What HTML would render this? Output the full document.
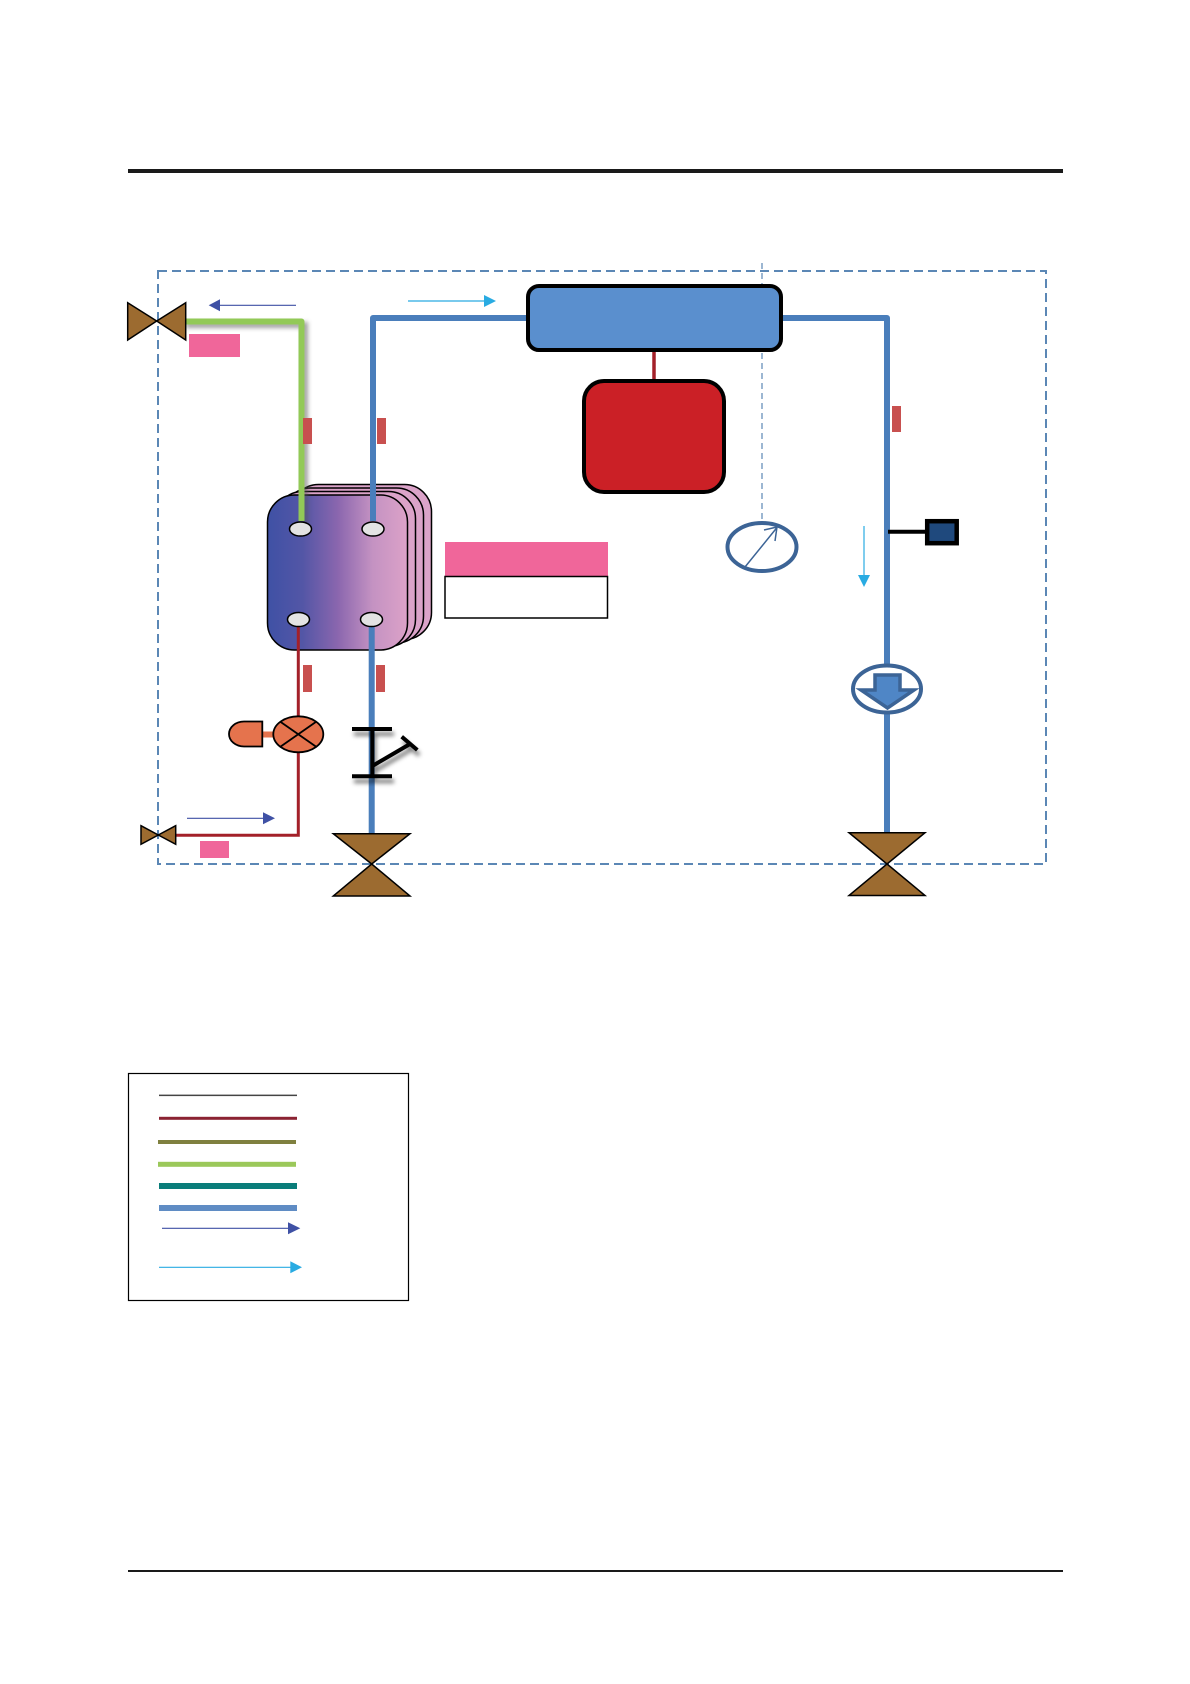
<!DOCTYPE html>
<html><head><meta charset="utf-8"><style>html,body{margin:0;padding:0;background:#fff}svg{display:block}</style></head><body>
<svg width="1190" height="1684" viewBox="0 0 1190 1684" xmlns="http://www.w3.org/2000/svg">
<defs>
<linearGradient id="g" x1="0" x2="1" y1="0" y2="0">
<stop offset="0" stop-color="#3f51a5"/><stop offset=".25" stop-color="#5356a6"/><stop offset=".5" stop-color="#8a66ae"/><stop offset=".75" stop-color="#c492c2"/><stop offset="1" stop-color="#dca2c8"/>
</linearGradient>
<filter id="s" x="-20%" y="-20%" width="140%" height="140%"><feGaussianBlur stdDeviation="2"/></filter>
</defs>
<rect x="128" y="169" width="935" height="4" fill="#1a1a1a"/>
<rect x="128" y="1570" width="935" height="2" fill="#1a1a1a"/>

<!-- stack -->
<rect x="291.500" y="484.500" width="140" height="155" rx="27" fill="#dba3c9" stroke="#000" stroke-width="1.500"/>
<rect x="283.500" y="488" width="140" height="155" rx="27" fill="#dba3c9" stroke="#000" stroke-width="1.500"/>
<rect x="275.500" y="491.500" width="140" height="155" rx="27" fill="#dba3c9" stroke="#000" stroke-width="1.500"/>
<rect x="267.500" y="495" width="140" height="155" rx="27" fill="url(#g)" stroke="#000" stroke-width="1.500"/>

<!-- green pipe -->
<path d="M186 325H305V525" fill="none" stroke="#555" stroke-opacity=".55" stroke-width="6" filter="url(#s)"/>
<path d="M186 321.500H301.500V521" fill="none" stroke="#92c957" stroke-width="6" stroke-linejoin="round"/>
<!-- blue pipes -->
<path d="M528 318H373V521" fill="none" stroke="#4a7ebb" stroke-width="6" stroke-linejoin="round"/>
<path d="M781 318H887V665" fill="none" stroke="#4a7ebb" stroke-width="6" stroke-linejoin="round"/>
<path d="M887 713V834" fill="none" stroke="#4a7ebb" stroke-width="6"/>
<path d="M371.700 619V834" fill="none" stroke="#4a7ebb" stroke-width="6"/>
<!-- red pipe -->
<path d="M298.300 619V835.300H176" fill="none" stroke="#a32029" stroke-width="3"/>
<path d="M654 350V380" fill="none" stroke="#a32029" stroke-width="3.500"/>

<!-- ticks -->
<g fill="#c8504f">
<rect x="303" y="418" width="9" height="26"/><rect x="377" y="418" width="9" height="26"/>
<rect x="303" y="665" width="9" height="27"/><rect x="376" y="665" width="9" height="27"/>
<rect x="892" y="406" width="9" height="26"/>
</g>

<!-- ports -->
<g fill="#e3e3e3" stroke="#000" stroke-width="1.500">
<ellipse cx="300.500" cy="529" rx="11" ry="7"/><ellipse cx="373" cy="529" rx="11" ry="7"/>
<ellipse cx="298.500" cy="619.500" rx="11" ry="7"/><ellipse cx="371.500" cy="619.500" rx="11" ry="7"/>
</g>

<!-- dashed enclosure -->
<rect x="158" y="271" width="888" height="593" fill="none" stroke="#5b87b5" stroke-width="2" stroke-dasharray="9 5"/>
<path d="M762 263V522" fill="none" stroke="#5b87b5" stroke-width="1.200" stroke-dasharray="6 4"/>

<!-- receiver & tank -->
<rect x="528" y="286" width="253" height="64" rx="11" fill="#5a8fce" stroke="#000" stroke-width="4"/>
<rect x="584" y="381" width="140" height="111" rx="20" fill="#cb2026" stroke="#000" stroke-width="4"/>

<!-- pink -->
<g fill="#f0669a">
<rect x="189" y="334" width="51" height="23"/>
<rect x="200" y="841" width="29" height="17"/>
<rect x="445" y="542" width="163" height="34"/>
</g>
<rect x="445" y="576.500" width="162.500" height="41.500" fill="#fff" stroke="#000" stroke-width="1.500"/>

<!-- valves -->
<g fill="#9c6b30" stroke="#000" stroke-width="1.500" stroke-linejoin="miter">
<path d="M127.700 302.700L156.700 321L127.700 340Z"/><path d="M185.700 302.700L156.700 321L185.700 340Z"/>
<path d="M141 825.700L158.300 835L141 844.300Z"/>
<path d="M175.700 825.700L158.300 835L175.700 844.300Z"/>
<path d="M333.300 833.700H410L371.700 864Z"/><path d="M333.300 896H410L371.700 864Z"/>
<path d="M849 832.700H925L887 864Z"/><path d="M849 895.500H925L887 864Z"/>
</g>

<!-- expansion valve -->
<rect x="262" y="731.500" width="12" height="6" fill="#e5734d"/>
<path d="M262.300 721.500H244a15 12.500 0 0 0 0 25H262.300Z" fill="#e5734d" stroke="#000" stroke-width="1.800"/>
<ellipse cx="298.300" cy="734.300" rx="25" ry="18" fill="#e5734d" stroke="#000" stroke-width="1.800"/>
<path d="M280 721.500L316.500 747M316.500 721.500L280 747" stroke="#000" stroke-width="1.800"/>

<!-- check valve -->
<g fill="none" stroke="#000" stroke-opacity=".5" stroke-width="4" filter="url(#s)" transform="translate(2 5)">
<path d="M352 729H392M352 776.300H392M372.300 729V776.300M372.300 766L410 744M401.700 736.700L417.300 750"/>
</g>
<g fill="none" stroke="#000" stroke-width="4">
<path d="M352 729H392M352 776.300H392M372.300 729V776.300M372.300 766L410 744M401.700 736.700L417.300 750"/>
</g>

<!-- gauge -->
<ellipse cx="762" cy="547" rx="34.500" ry="24" fill="#fff" stroke="#3c6496" stroke-width="4"/>
<path d="M745 567L777 527.500M764 530L777 527L775 541" fill="none" stroke="#3c6496" stroke-width="1.500"/>

<!-- sensor -->
<path d="M888 531.700H927" stroke="#000" stroke-width="4"/>
<rect x="927.200" y="521.200" width="29.500" height="22" fill="#1f497d" stroke="#000" stroke-width="4.500"/>

<!-- pump -->
<ellipse cx="887" cy="689" rx="34" ry="23.500" fill="#fff" stroke="#3c6496" stroke-width="4"/>
<path d="M875 675H900V690H914L887.500 708L861 690H875Z" fill="#4f86c6" stroke="#3c6496" stroke-width="3.500"/>

<!-- flow arrows -->
<g stroke="#3f51a5" fill="#3f51a5" stroke-width="1.200">
<path d="M296 305.300H218" fill="none"/><path d="M208.700 305.300L220 299.300V311.300Z" stroke="none"/>
<path d="M187 818.300H265" fill="none"/><path d="M275 818.300L263 812.300V824.300Z" stroke="none"/>
<path d="M162 1228.300H290" fill="none"/><path d="M300.300 1228.300L288 1222.300V1234.300Z" stroke="none"/>
</g>
<g stroke="#29abe2" fill="#29abe2" stroke-width="1.200">
<path d="M408 301H486" fill="none"/><path d="M496 301L484 295V307Z" stroke="none"/>
<path d="M864 526V576" fill="none"/><path d="M864 587L858 575H870Z" stroke="none"/>
<path d="M159 1267.300H292" fill="none"/><path d="M302 1267.300L290.300 1261.300V1273.300Z" stroke="none"/>
</g>

<!-- legend -->
<rect x="128.500" y="1073.500" width="280" height="227" fill="none" stroke="#000" stroke-width="1.200"/>
<rect x="159" y="1094.600" width="138" height="1.500" fill="#444"/>
<rect x="159" y="1116.800" width="138" height="3" fill="#8b2332"/>
<rect x="158" y="1140" width="138" height="4" fill="#7f803f"/>
<rect x="158" y="1161.800" width="138" height="5" fill="#9bc85a"/>
<rect x="159" y="1183" width="138" height="6" fill="#0a7d7a"/>
<rect x="159" y="1205" width="138" height="6" fill="#5f8cc4"/>
</svg>
</body></html>
